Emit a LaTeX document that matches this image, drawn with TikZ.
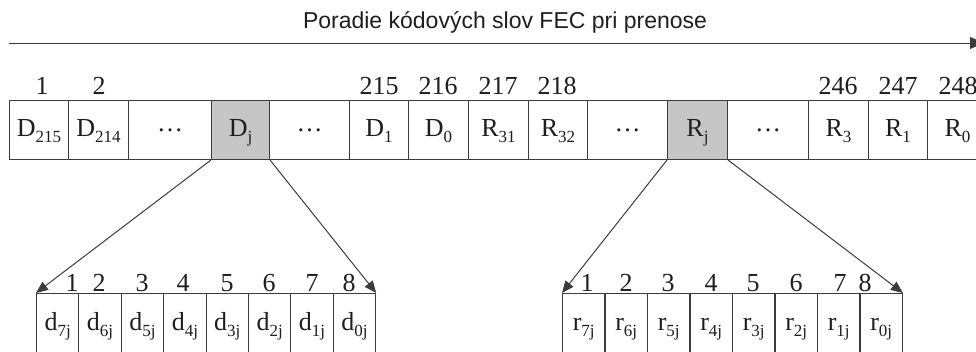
\documentclass[tikz,border=0pt]{standalone}
\usepackage{fontspec}
\setmainfont{Liberation Serif}
\newfontfamily\titlefont{Liberation Sans}
\usetikzlibrary{arrows.meta}
\definecolor{ln}{RGB}{60,60,60}
\definecolor{tx}{RGB}{30,30,30}
\definecolor{hl}{RGB}{198,198,198}
\newcommand\lsub[1]{\raisebox{-5.5pt}{\fontsize{17}{17}\selectfont #1}}
\newcommand\bsub[1]{\raisebox{-6pt}{\fontsize{17}{17}\selectfont #1}}
\newcommand\mdots{\raisebox{5pt}{\dots}}
\begin{document}
\begin{tikzpicture}[x=1pt,y=-1pt,
  topbox/.style={draw=ln,line width=1pt,minimum height=59pt,inner sep=0pt,
    text height=20pt,text depth=7pt,font=\fontsize{26}{26}\selectfont,text=tx,anchor=north west},
  botbox/.style={draw=ln,line width=1pt,minimum height=70pt,minimum width=42.4pt,inner sep=0pt,
    text height=16pt,text depth=13pt,font=\fontsize{26}{26}\selectfont,text=tx,anchor=north west},
  num/.style={anchor=base,inner sep=0pt,font=\fontsize{26}{26}\selectfont,text=tx},
  con/.style={draw=ln,line width=1pt,-{Triangle[length=12pt,width=10pt]}}]
\useasboundingbox (0,0) rectangle (976,351);
\clip (0,0) rectangle (976,351);
% title and transmission arrow
\node[anchor=base,inner sep=0pt,text=tx,font=\titlefont\fontsize{23}{23}\selectfont] (title) at (505,28) {Poradie kódových slov FEC pri prenose};
\coordinate (as) at (9,43);
\coordinate (ae) at (984,43);
\draw[con,-{Triangle[length=14pt,width=12pt]}] (as) -- (ae);
% top row of code words
\foreach \x/\w/\lab/\nm/\f in {
  9/59/D\lsub{215}/t1/white,
  68/60/D\lsub{214}/t2/white,
  128/83/\mdots/t3/white,
  211/58/D\lsub{j}/Dj/hl,
  269/80/\mdots/t5/white,
  349/59/D\lsub{1}/t6/white,
  408/60/D\lsub{0}/t7/white,
  468/60/R\lsub{31}/t8/white,
  528/59/R\lsub{32}/t9/white,
  587/80/\mdots/t10/white,
  667/60/R\lsub{j}/Rj/hl,
  727/81/\mdots/t12/white,
  808/60/R\lsub{3}/t13/white,
  868/59/R\lsub{1}/t14/white,
  927/60/R\lsub{0}/t15/white}
  \node[topbox,fill=\f,minimum width=\w pt] (\nm) at (\x,100) {\lab};
% top numbers
\foreach \x/\n/\nm in {42/1/n1,99/2/n2,379/215/n215,438/216/n216,498/217/n217,557/218/n218,838/246/n246,898/247/n247,958/248/n248}
  \node[num] (\nm) at (\x,94) {\n};
% bottom data bytes
\foreach \i in {1,...,8}{
  \pgfmathtruncatemacro\k{8-\i}
  \node[botbox] (d\i) at ({36+(\i-1)*42.4},293) {d\bsub{\k j}};
  \node[botbox] (r\i) at ({562+(\i-1)*42.5},293) {r\bsub{\k j}};
}
% bottom numbers
\foreach \x [count=\i] in {72,99,142,183,227,269,312,349}
  \node[num] (dn\i) at (\x,291) {\i};
\foreach \x [count=\i] in {587,626,668,711,753,796,840,865}
  \node[num] (rn\i) at (\x,291) {\i};
% expansion connectors
\draw[con] (Dj.south west) -- (d1.north west);
\draw[con] (Dj.south east) -- (d8.north east);
\draw[con] (Rj.south west) -- (r1.north west);
\draw[con] (Rj.south east) -- (r8.north east);
\end{tikzpicture}
\end{document}
